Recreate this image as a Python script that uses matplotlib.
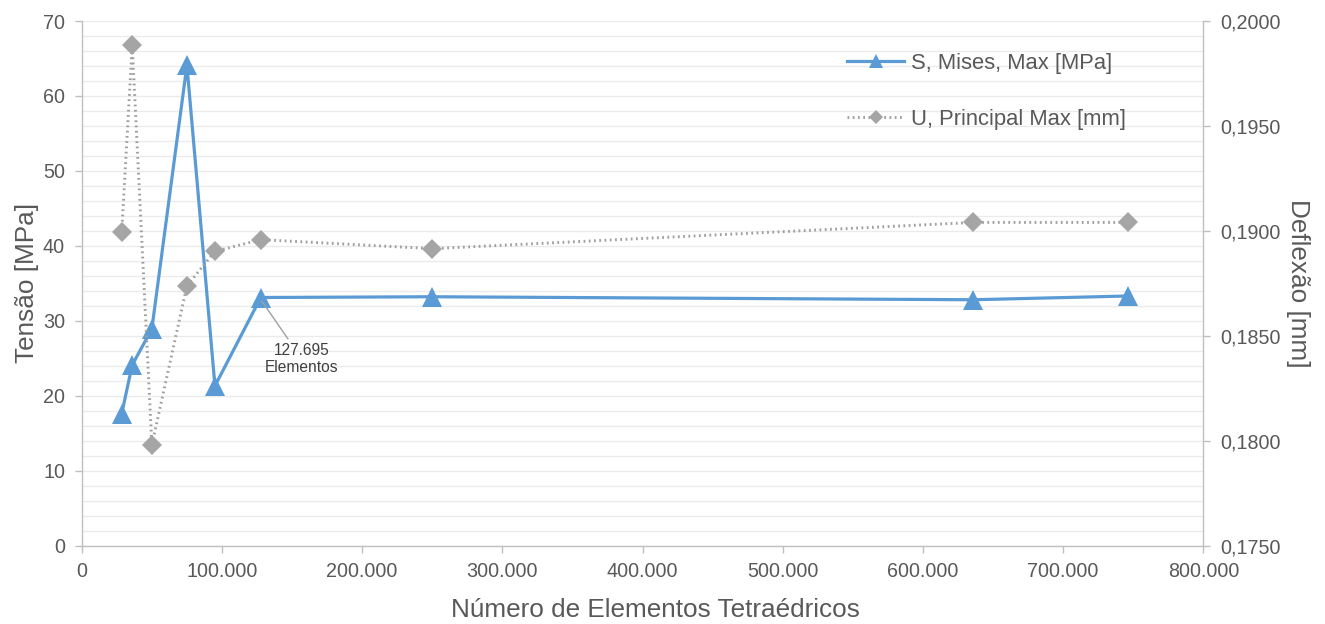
import matplotlib
matplotlib.use("Agg")
import matplotlib.pyplot as plt
from matplotlib.ticker import MultipleLocator, FuncFormatter

plt.rcParams['font.family'] = ['Liberation Sans', 'DejaVu Sans']

# Mesh convergence study data
elementos = [28500, 36000, 50000, 75000, 95000, 127695, 250000, 636000, 746000]
tensao_mises = [17.6, 24.1, 28.9, 64.1, 21.3, 33.1, 33.2, 32.8, 33.3]
deflexao = [0.18994, 0.19885, 0.17979, 0.18738, 0.18902, 0.18958, 0.18915, 0.19040, 0.19040]

label_mises = "S, Mises, Max [MPa]"
label_desloc = "U, Principal Max [mm]"

blue = "#5B9BD5"
grey = "#A5A5A5"
text_col = "#595959"
spine_col = "#BFBFBF"
grid_col = "#EBEBEB"

fig = plt.figure(figsize=(13.25, 6.24), dpi=100)
ax = fig.add_axes([0.0617, 0.1258, 0.9082 - 0.0617, 0.9663 - 0.1258])
ax2 = ax.twinx()

ax.plot(elementos, tensao_mises, color=blue, lw=2.3, marker='^', markersize=15,
        markeredgewidth=0, label=label_mises, zorder=3)
ax2.plot(elementos, deflexao, color="#9F9F9F", lw=2.1, ls=(0, (0.6, 1.2)), marker='D',
         markersize=10, markeredgewidth=0, markerfacecolor=grey, label=label_desloc, zorder=3)

ax.set_xlim(0, 800000)
ax.set_ylim(0, 70)
ax2.set_ylim(0.1750, 0.2000)

ax.xaxis.set_major_locator(MultipleLocator(100000))
ax.yaxis.set_major_locator(MultipleLocator(10))
ax.yaxis.set_minor_locator(MultipleLocator(2))
ax2.yaxis.set_major_locator(MultipleLocator(0.005))

ax.xaxis.set_major_formatter(FuncFormatter(lambda v, p: f"{int(v):,}".replace(",", ".")))
ax2.yaxis.set_major_formatter(FuncFormatter(lambda v, p: f"{v:.4f}".replace(".", ",")))

ax.grid(True, which='both', axis='y', color=grid_col, lw=1.0)
ax.set_axisbelow(True)

for a in (ax, ax2):
    for s in a.spines.values():
        s.set_color(spine_col)
        s.set_linewidth(1.0)
    a.spines['top'].set_visible(False)
    a.tick_params(colors=spine_col, labelcolor=text_col, labelsize=14.2, length=5,
                  width=1.0, pad=7)
    a.tick_params(which='minor', length=0)
ax.spines['right'].set_visible(False)
ax2.spines['left'].set_visible(False)
ax2.spines['bottom'].set_visible(False)

ax.set_xlabel("Número de Elementos Tetraédricos", fontsize=18.8, color=text_col, labelpad=12)
ax.xaxis.label.set_x(0.5116)
ax.set_ylabel("Tensão [MPa]", fontsize=18.8, color=text_col, labelpad=3)
ax2.set_ylabel("Deflexão [mm]", fontsize=18.8, color=text_col, rotation=-90, labelpad=21)

ax.annotate("127.695\nElementos", xy=(128500, 32.6), xytext=(157000, 24.9),
            ha='center', va='center', fontsize=11.2, color="#404040",
            arrowprops=dict(arrowstyle='-', color="#A0A0A0", lw=1.0, shrinkB=0, shrinkA=1))

h1, l1 = ax.get_legend_handles_labels()
h2, l2 = ax2.get_legend_handles_labels()
leg = ax2.legend(h1 + h2, l1 + l2, loc='upper left', bbox_to_anchor=(847 / 1325, 1 - 53 / 624),
                 bbox_transform=fig.transFigure, borderpad=0, borderaxespad=0,
                 frameon=False, fontsize=15.8, labelcolor=text_col,
                 handlelength=2.6, handletextpad=0.3, labelspacing=1.58, markerscale=0.7)

fig.savefig("out.png", dpi=100, facecolor='white')
